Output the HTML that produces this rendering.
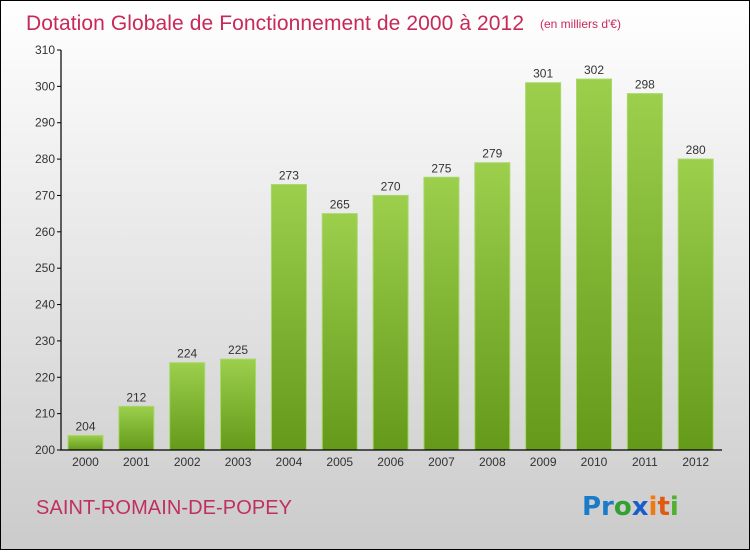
<!DOCTYPE html>
<html><head><meta charset="utf-8"><style>
body{margin:0;width:750px;height:550px;overflow:hidden;font-family:"Liberation Sans",sans-serif}
</style></head><body>
<svg width="750" height="550">
<defs>
<linearGradient id="bg" x1="0" y1="0" x2="0" y2="1"><stop offset="0" stop-color="#ffffff"/><stop offset="1" stop-color="#cbcbcb"/></linearGradient>
<linearGradient id="bar" x1="0" y1="0" x2="0" y2="1"><stop offset="0" stop-color="#9bcf4c"/><stop offset="1" stop-color="#64991a"/></linearGradient>
</defs>
<rect x="0.5" y="0.5" width="749" height="549" fill="url(#bg)" stroke="#000"/>
<text x="26" y="30" font-size="21" fill="#c8285a" textLength="498">Dotation Globale de Fonctionnement de 2000 à 2012</text>
<text x="540" y="28" font-size="12" fill="#c8285a">(en milliers d'€)</text>
<g id="g"></g>
<text x="36" y="514" font-size="20" fill="#c0305e" textLength="256">SAINT-ROMAIN-DE-POPEY</text>
<text x="582" y="515" font-size="26" font-family="DejaVu Sans" font-weight="bold"><tspan fill="#1a7cc8">Pr</tspan><tspan fill="#33a033">o</tspan><tspan fill="#1a5fc8">x</tspan><tspan fill="#f07a10">i</tspan><tspan fill="#e05a10">t</tspan><tspan fill="#50b030">i</tspan></text>
</svg>
<script>
const years=["2000","2001","2002","2003","2004","2005","2006","2007","2008","2009","2010","2011","2012"];
const values=[204,212,224,225,273,265,270,275,279,301,302,298,280];
const ticks=[200,210,220,230,240,250,260,270,280,290,300,310];
const NS="http://www.w3.org/2000/svg",g=document.getElementById('g');
const y=v=>450-(v-200)*(400/110), x=i=>85.5+i*50.85;
function mk(t,a,txt){const e=document.createElementNS(NS,t);for(const k in a)e.setAttribute(k,a[k]);if(txt!=null)e.textContent=txt;g.appendChild(e);return e;}
ticks.forEach(t=>{
 const l=mk('line',{x1:57,x2:61,y1:y(t),y2:y(t),stroke:'#000'});
 
 
 const tx=mk('text',{x:55,y:y(t)+4,'text-anchor':'end','font-size':12,fill:'#333'},t);
 
 
});
values.forEach((v,i)=>{
 const r=mk('rect',{x:x(i)-17.5,y:y(v),width:35,height:450-y(v),fill:'url(#bar)',stroke:'#a8d86a','stroke-width':1});
 
 
 const t=mk('text',{x:x(i),y:y(v)-5,'text-anchor':'middle','font-size':12,fill:'#333'},v);
 
 
 const yl=mk('text',{x:x(i),y:466,'text-anchor':'middle','font-size':12,fill:'#333'},years[i]);
 
 
});
const ax=mk('path',{d:'M61,50V450H722',fill:'none',stroke:'#000','stroke-width':1.2});


</script>
</body></html>
